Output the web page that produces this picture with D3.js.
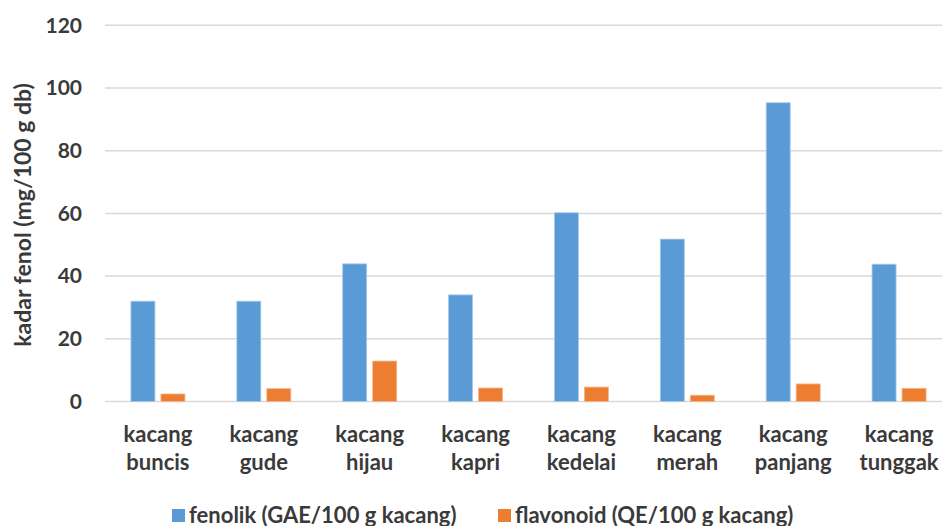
<!DOCTYPE html>
<html>
<head>
<meta charset="utf-8">
<script src="https://cdn.jsdelivr.net/npm/d3@7"></script>
<style>
  html, body { margin: 0; padding: 0; background: #fff; }
  svg { display: block; font-family: Lato, "Open Sans", sans-serif; }
</style>
</head>
<body>
<svg id="chart" width="942" height="526"></svg>
<script>
// Bean varieties (two-line labels)
const categories = [
  ["kacang", "buncis"], ["kacang", "gude"], ["kacang", "hijau"], ["kacang", "kapri"],
  ["kacang", "kedelai"], ["kacang", "merah"], ["kacang", "panjang"], ["kacang", "tunggak"]
];
const seriesNames = ["fenolik (GAE/100 g kacang)", "flavonoid (QE/100 g kacang)"];
const fenolik   = [32.0, 32.0, 43.9, 34.0, 60.2, 51.8, 95.3, 43.8];
const flavonoid = [2.4, 4.1, 12.9, 4.3, 4.6, 2.0, 5.6, 4.2];
const yTicks = [0, 20, 40, 60, 80, 100, 120];
const colors = ["#5B9BD5", "#ED7D31"];
const edgeColors = ["#a9c9ea", "#f5b58c"];

const svg = d3.select("#chart");
const textColor = "#3a3a3a";

const plot = { left: 105, right: 952, top: 25.3, bottom: 401.5 };

const x = d3.scaleBand()
  .domain(d3.range(categories.length))
  .range([plot.left, plot.right])
  .paddingInner(0).paddingOuter(0);

const y = d3.scaleLinear().domain([0, 120]).range([plot.bottom, plot.top]);

// horizontal gridlines
svg.append("g").selectAll("line").data(yTicks).join("line")
  .attr("x1", plot.left).attr("x2", 942)
  .attr("y1", d => y(d)).attr("y2", d => y(d))
  .attr("stroke", "#d9d9d9").attr("stroke-width", 1.5);

// y tick labels
svg.append("g").selectAll("text").data(yTicks).join("text")
  .attr("x", 82).attr("y", d => y(d))
  .attr("dy", "0.35em")
  .attr("text-anchor", "end")
  .attr("font-size", 21).attr("font-weight", 700)
  .attr("fill", textColor)
  .text(d => d);

// y axis title
svg.append("text")
  .attr("transform", "translate(31,215) rotate(-90)")
  .attr("text-anchor", "middle")
  .attr("font-size", 23).attr("font-weight", 700)
  .attr("fill", textColor)
  .text("kadar fenol (mg/100 g db)");

// bars: width 24, 6px gap between the pair
const barW = 24, gap = 6;
const series = [fenolik, flavonoid];
series.forEach((vals, si) => {
  svg.append("g").selectAll("rect").data(vals).join("rect")
    .attr("x", (d, i) => x(i) + x.bandwidth() / 2 + (si === 0 ? -(barW + gap / 2) : gap / 2))
    .attr("y", d => y(d))
    .attr("width", barW)
    .attr("height", d => y(0) - y(d))
    .attr("fill", colors[si])
    .attr("stroke", edgeColors[si])
    .attr("stroke-width", 0.8);
});

// category labels
const catG = svg.append("g");
categories.forEach((lines, i) => {
  const t = catG.append("text")
    .attr("x", x(i) + x.bandwidth() / 2)
    .attr("text-anchor", "middle")
    .attr("font-size", 22).attr("font-weight", 700)
    .attr("fill", textColor);
  lines.forEach((ln, j) => {
    t.append("tspan")
      .attr("x", x(i) + x.bandwidth() / 2)
      .attr("y", 441.5 + j * 28.5)
      .text(ln);
  });
});

// legend
const legendItems = [
  { name: seriesNames[0], color: colors[0], sx: 172 },
  { name: seriesNames[1], color: colors[1], sx: 498 }
];
const lg = svg.append("g");
legendItems.forEach(it => {
  lg.append("rect")
    .attr("x", it.sx).attr("y", 509)
    .attr("width", 13).attr("height", 13)
    .attr("fill", it.color);
  lg.append("text")
    .attr("x", it.sx + 17).attr("y", 522.5)
    .attr("font-size", 22).attr("font-weight", 700)
    .attr("fill", textColor)
    .text(it.name);
});
</script>
</body>
</html>
